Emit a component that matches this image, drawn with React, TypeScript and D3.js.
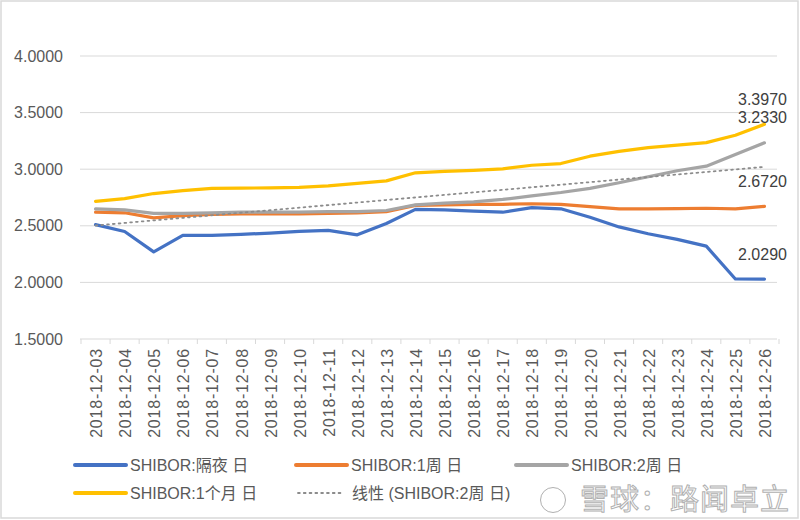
import React, { useEffect, useRef } from 'react';
import * as d3 from 'd3';

// dates on the category axis
const dates = [
  '2018-12-03', '2018-12-04', '2018-12-05', '2018-12-06', '2018-12-07', '2018-12-08',
  '2018-12-09', '2018-12-10', '2018-12-11', '2018-12-12', '2018-12-13', '2018-12-14',
  '2018-12-15', '2018-12-16', '2018-12-17', '2018-12-18', '2018-12-19', '2018-12-20',
  '2018-12-21', '2018-12-22', '2018-12-23', '2018-12-24', '2018-12-25', '2018-12-26',
];

const overnight = [2.51, 2.45, 2.27, 2.415, 2.415, 2.425, 2.435, 2.45, 2.46, 2.42, 2.52, 2.645,
  2.64, 2.63, 2.62, 2.66, 2.65, 2.575, 2.49, 2.43, 2.38, 2.32, 2.03, 2.029];
const week1 = [2.62, 2.615, 2.57, 2.59, 2.6, 2.605, 2.605, 2.605, 2.61, 2.615, 2.625, 2.68,
  2.685, 2.69, 2.69, 2.695, 2.69, 2.67, 2.65, 2.65, 2.652, 2.655, 2.65, 2.672];
const week2 = [2.65, 2.64, 2.61, 2.61, 2.615, 2.62, 2.62, 2.62, 2.625, 2.625, 2.635, 2.685,
  2.7, 2.712, 2.733, 2.765, 2.794, 2.83, 2.88, 2.933, 2.986, 3.027, 3.13, 3.233];
const month1 = [2.715, 2.74, 2.785, 2.81, 2.83, 2.833, 2.835, 2.84, 2.853, 2.874, 2.897, 2.968,
  2.98, 2.99, 3.003, 3.035, 3.05, 3.115, 3.158, 3.19, 3.212, 3.235, 3.3, 3.397];

const yTicks = [1.5, 2.0, 2.5, 3.0, 3.5, 4.0];

const series = [
  { name: 'SHIBOR:隔夜 日', values: overnight, color: '#4472C4' },
  { name: 'SHIBOR:1周 日', values: week1, color: '#ED7D31' },
  { name: 'SHIBOR:2周 日', values: week2, color: '#A5A5A5' },
  { name: 'SHIBOR:1个月 日', values: month1, color: '#FFC000' },
];

const FONT = '"Liberation Sans", Arial, "Noto Sans CJK SC", sans-serif';
const TEXT = '#595959';

export default function App() {
  const ref = useRef<SVGSVGElement>(null);

  useEffect(() => {
    const svg = d3.select(ref.current);
    svg.selectAll('*').remove();

    const W = 800, H = 520;
    const left = 81, right = 779, top = 56, bottom = 339;

    // chart border
    svg.append('rect')
      .attr('x', 1).attr('y', 1).attr('width', W - 3).attr('height', H - 3)
      .attr('fill', '#fff').attr('stroke', '#d9d9d9').attr('stroke-width', 1.5);

    const x = d3.scalePoint<string>().domain(dates).range([left, right]).padding(0.5);
    const band = d3.scaleBand<string>().domain(dates).range([left, right]);
    const y = d3.scaleLinear().domain([1.5, 4]).range([bottom, top]);

    // gridlines
    svg.append('g').selectAll('line').data(yTicks).join('line')
      .attr('x1', left - 1).attr('x2', right - 2)
      .attr('y1', d => y(d)).attr('y2', d => y(d))
      .attr('stroke', '#d9d9d9').attr('stroke-width', 1);

    // y tick labels
    svg.append('g').selectAll('text').data(yTicks).join('text')
      .attr('x', 63).attr('y', d => y(d)).attr('dy', '0.35em')
      .attr('text-anchor', 'end')
      .attr('font-family', FONT).attr('font-size', 16).attr('fill', TEXT)
      .text(d => d3.format('.4f')(d));

    // tick marks between categories
    const edges = dates.map(d => band(d) as number).concat([right]);
    svg.append('g').selectAll('line').data(edges).join('line')
      .attr('x1', d => d).attr('x2', d => d)
      .attr('y1', bottom).attr('y2', bottom + 5)
      .attr('stroke', '#d9d9d9').attr('stroke-width', 1);

    // x labels, rotated
    svg.append('g').selectAll('text').data(dates).join('text')
      .attr('transform', d => `translate(${x(d)! + 1},${bottom + 9}) rotate(-90)`)
      .attr('dy', '0.35em')
      .attr('text-anchor', 'end')
      .attr('font-family', FONT).attr('font-size', 16).attr('letter-spacing', 0.8)
      .attr('fill', TEXT)
      .text(d => d);

    const line = d3.line<number>()
      .x((_, i) => x(dates[i]) as number)
      .y(d => y(d));

    // linear trend of the 2-week series
    const idx = week2.map((_, i) => i);
    const mx = d3.mean(idx)!, my = d3.mean(week2)!;
    const slope = d3.sum(idx, i => (i - mx) * (week2[i] - my)) / d3.sum(idx, i => (i - mx) ** 2);
    const trend = idx.map(i => my + slope * (i - mx));

    series.forEach(s => {
      svg.append('path')
        .attr('d', line(s.values))
        .attr('fill', 'none')
        .attr('stroke', s.color)
        .attr('stroke-width', 3.2)
        .attr('stroke-linejoin', 'round')
        .attr('stroke-linecap', 'round');
    });

    svg.append('path')
      .attr('d', line(trend))
      .attr('fill', 'none')
      .attr('stroke', '#8c8c8c')
      .attr('stroke-width', 1.8)
      .attr('stroke-dasharray', '1.8,4')
      .attr('stroke-linecap', 'round');

    // end labels
    const last = dates[dates.length - 1];
    series.forEach(s => {
      const v = s.values[s.values.length - 1];
      svg.append('text')
        .attr('x', x(last)! - 2).attr('y', y(v) - 25).attr('dy', '0.35em')
        .attr('text-anchor', 'middle')
        .attr('font-family', FONT).attr('font-size', 16).attr('fill', '#404040')
        .text(d3.format('.4f')(v));
    });

    // legend
    const legend = [
      { ...series[0], lx: 75, ly: 465, len: 51 },
      { ...series[1], lx: 296, ly: 465, len: 51 },
      { ...series[2], lx: 516, ly: 465, len: 51 },
      { ...series[3], lx: 75, ly: 493, len: 51 },
    ];
    legend.forEach(l => {
      svg.append('line')
        .attr('x1', l.lx).attr('x2', l.lx + l.len).attr('y1', l.ly).attr('y2', l.ly)
        .attr('stroke', l.color).attr('stroke-width', 4).attr('stroke-linecap', 'round');
      svg.append('text')
        .attr('x', l.lx + l.len + 4).attr('y', l.ly).attr('dy', '0.35em')
        .attr('font-family', FONT).attr('font-size', 16).attr('fill', TEXT)
        .text(l.name);
    });
    svg.append('line')
      .attr('x1', 298).attr('x2', 342).attr('y1', 493).attr('y2', 493)
      .attr('stroke', '#8c8c8c').attr('stroke-width', 1.8)
      .attr('stroke-dasharray', '1.8,4').attr('stroke-linecap', 'round');
    svg.append('text')
      .attr('x', 352).attr('y', 493).attr('dy', '0.35em')
      .attr('font-family', FONT).attr('font-size', 16).attr('fill', TEXT)
      .text('线性 (SHIBOR:2周 日)');

    // watermark
    const wm = svg.append('g').attr('fill', '#fff').attr('stroke', '#b0b0b0').attr('stroke-width', 1);
    wm.append('circle').attr('cx', 553).attr('cy', 500).attr('r', 12.5);
    wm.append('text')
      .attr('x', 580).attr('y', 500).attr('dy', '0.36em')
      .attr('font-family', '"Noto Sans CJK SC", sans-serif').attr('font-size', 29)
      .attr('letter-spacing', 1)
      .text('雪球：路闻卓立');
  }, []);

  return (
    <svg ref={ref} width={800} height={520}
      style={{ position: 'absolute', left: 0, top: 0, display: 'block' }} />
  );
}
